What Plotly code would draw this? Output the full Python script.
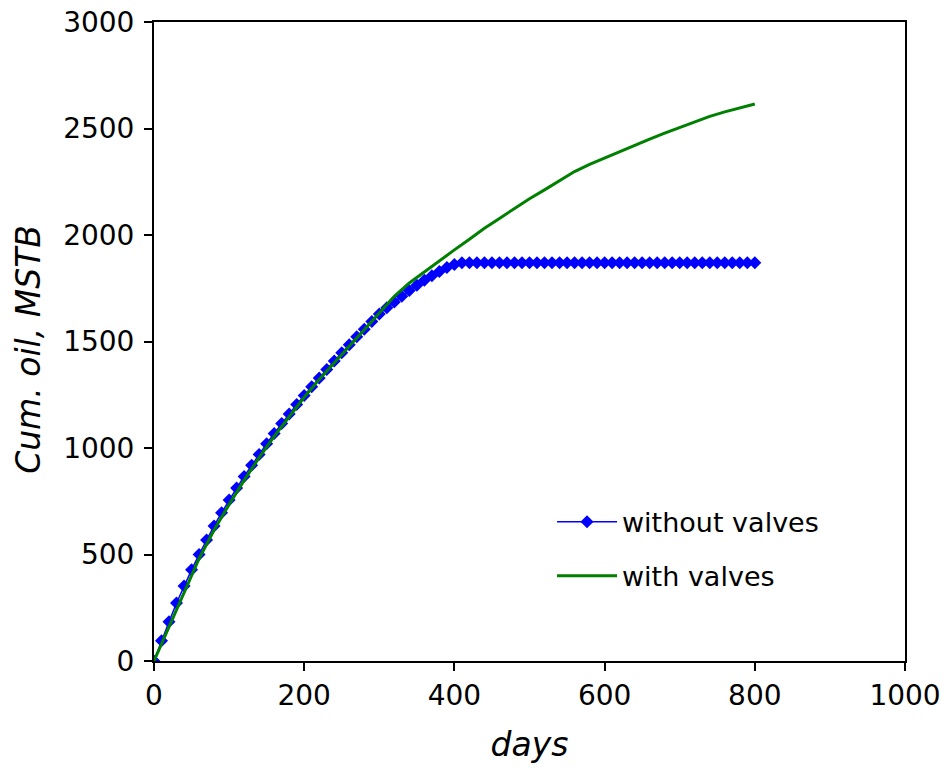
import plotly.graph_objects as go

# Cumulative oil production, MSTB, versus time in days
days_without = list(range(0, 810, 10))
oil_without = [
    0, 95, 184, 272, 352, 428, 500, 568, 634, 696,
    756, 812, 866, 919, 970, 1020, 1068, 1115, 1160, 1204,
    1246, 1288, 1329, 1369, 1408, 1447, 1485, 1522, 1558, 1594,
    1629, 1658, 1686, 1713, 1739, 1764, 1787, 1809, 1829, 1847,
    1862,
] + [1870] * 40

days_with = [0, 10, 20, 40, 60, 80, 100, 120, 140, 160, 180, 200, 220, 240,
             260, 280, 300, 320, 340, 360, 380, 400, 420, 440, 460, 480, 500,
             520, 540, 560, 580, 600, 620, 640, 660, 680, 700, 720, 740, 760,
             780, 800]
oil_with = [0, 80, 165, 325, 480, 615, 735, 848, 955, 1055, 1148, 1238, 1322,
            1402, 1478, 1555, 1635, 1712, 1775, 1828, 1880, 1930, 1980, 2032,
            2078, 2125, 2170, 2212, 2255, 2298, 2332, 2362, 2392, 2420, 2450,
            2478, 2505, 2530, 2557, 2578, 2595, 2615]

x_ticks = [0, 200, 400, 600, 800, 1000]
y_ticks = [0, 500, 1000, 1500, 2000, 2500, 3000]

FONT = "Verdana, DejaVu Sans, sans-serif"

fig = go.Figure()
fig.add_trace(go.Scatter(
    x=days_without, y=oil_without, name="without valves",
    mode="lines+markers", legendgroup="a",
    line=dict(color="#0000FF", width=1.5),
    marker=dict(symbol="diamond", size=10, color="#0000FF"),
))
fig.add_trace(go.Scatter(
    x=days_with, y=oil_with, name="with valves",
    mode="lines", legendgroup="b",
    line=dict(color="#008000", width=3),
))

axis_common = dict(
    showline=True, linecolor="black", linewidth=2, mirror=True,
    ticks="outside", ticklen=8, tickwidth=2, tickcolor="black",
    showgrid=False, zeroline=False, automargin=False,
    tickfont=dict(family=FONT, size=28, color="black"),
)

fig.update_xaxes(
    range=[0, 1000], tickvals=x_ticks,
    title=dict(text="<i>days</i>", font=dict(family=FONT, size=33, color="black"),
               standoff=22),
    **axis_common,
)
fig.update_yaxes(
    range=[0, 3000], tickvals=y_ticks, ticklabelstandoff=4,
    **axis_common,
)

fig.update_layout(
    width=944, height=768,
    margin=dict(l=154, r=39, t=22, b=107, autoexpand=False),
    plot_bgcolor="white", paper_bgcolor="white",
    font=dict(family=FONT, color="black"),
    legend=dict(
        x=0.53, y=0.175, xanchor="left", yanchor="middle",
        bgcolor="rgba(0,0,0,0)", borderwidth=0,
        font=dict(family=FONT, size=27, color="black"),
        traceorder="grouped", tracegroupgap=16, itemwidth=60,
    ),
    showlegend=True,
    annotations=[dict(
        text="<i>Cum. oil, MSTB</i>", textangle=-90,
        xref="paper", yref="paper", x=-0.1664, y=0.487,
        xanchor="center", yanchor="middle", showarrow=False,
        font=dict(family=FONT, size=33, color="black"),
    )],
)

fig.write_html("out.html")
